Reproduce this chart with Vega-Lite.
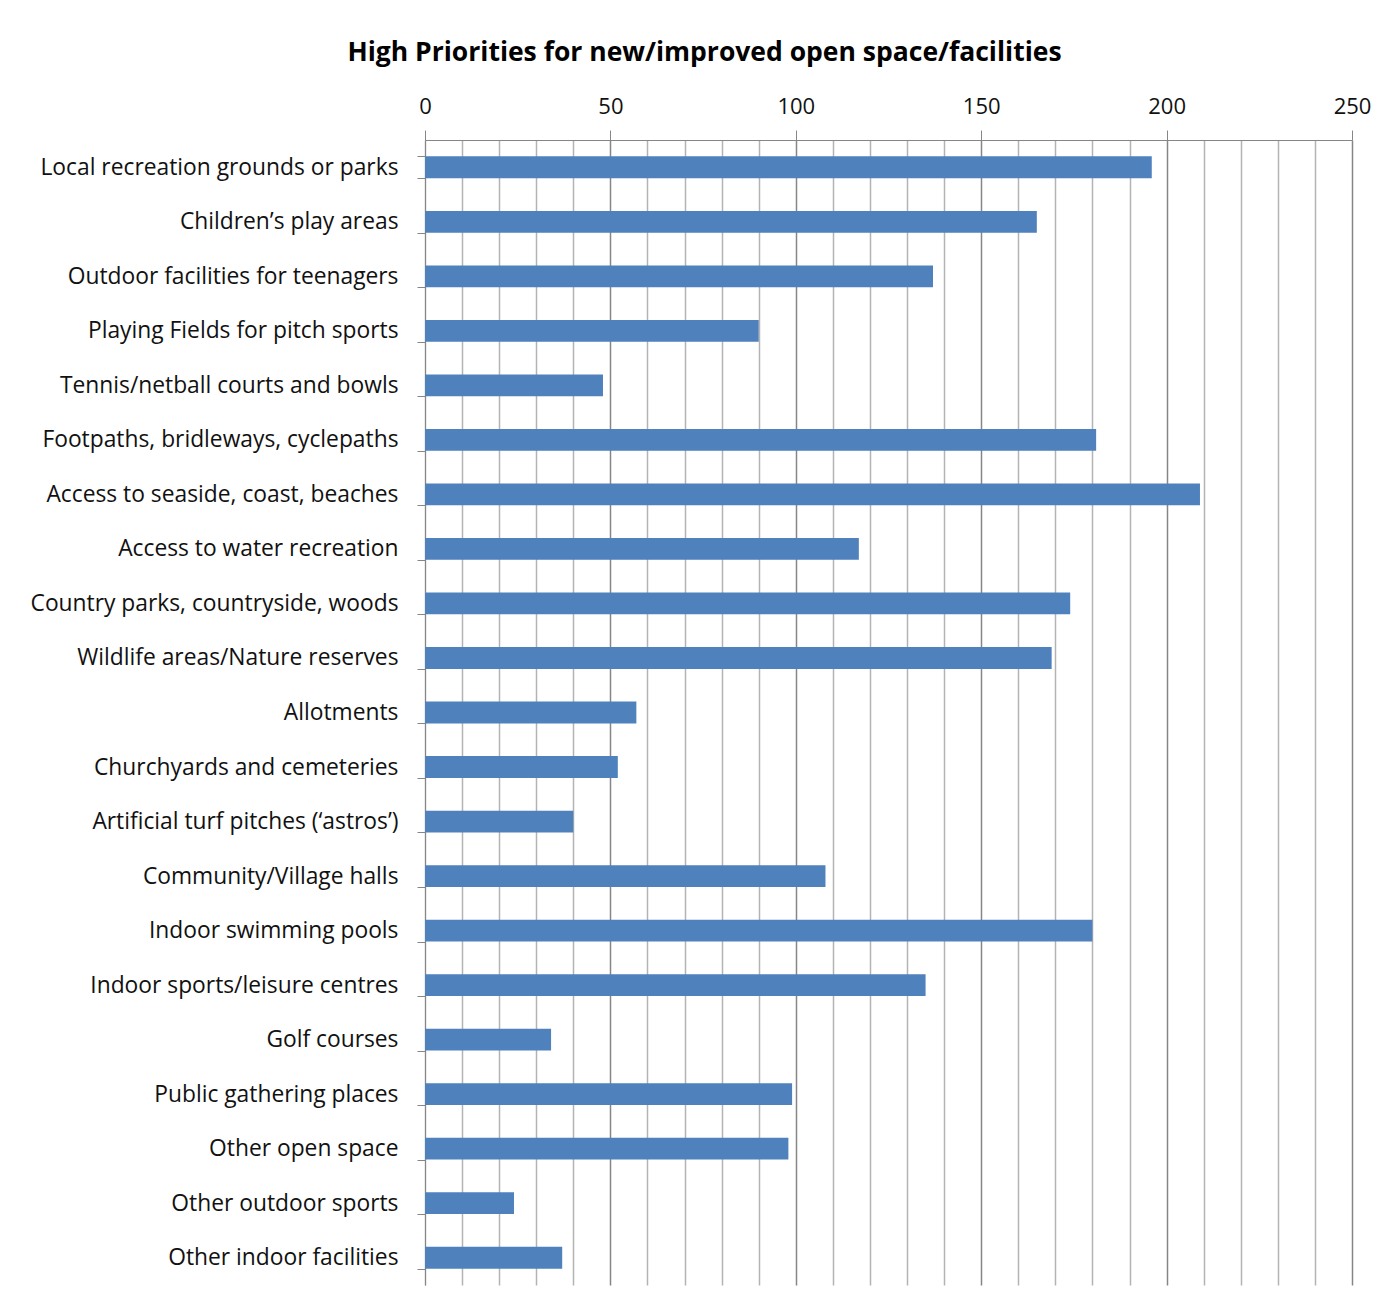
{
  "$schema": "https://vega.github.io/schema/vega-lite/v6.json",
  "width": 927,
  "height": 1145,
  "autosize": {"type": "none"},
  "padding": {"left": 425, "top": 140, "right": 41, "bottom": 21},
  "background": "white",
  "title": {
    "text": "High Priorities for new/improved open space/facilities",
    "font": "Open Sans",
    "fontSize": 26.5,
    "fontWeight": "bold",
    "color": "#000000",
    "anchor": "middle",
    "frame": "group",
    "dx": -184,
    "offset": 29
  },
  "config": {
    "view": {"stroke": null},
    "font": "Open Sans"
  },
  "data": {
    "values": [
      {"category": "Local recreation grounds or parks", "value": 196},
      {"category": "Children’s play areas", "value": 165},
      {"category": "Outdoor facilities for teenagers", "value": 137},
      {"category": "Playing Fields for pitch sports", "value": 90},
      {"category": "Tennis/netball courts and bowls", "value": 48},
      {"category": "Footpaths, bridleways, cyclepaths", "value": 181},
      {"category": "Access to seaside, coast, beaches", "value": 209},
      {"category": "Access to water recreation", "value": 117},
      {"category": "Country parks, countryside, woods", "value": 174},
      {"category": "Wildlife areas/Nature reserves", "value": 169},
      {"category": "Allotments", "value": 57},
      {"category": "Churchyards and cemeteries", "value": 52},
      {"category": "Artificial turf pitches (‘astros’)", "value": 40},
      {"category": "Community/Village halls", "value": 108},
      {"category": "Indoor swimming pools", "value": 180},
      {"category": "Indoor sports/leisure   centres", "value": 135},
      {"category": "Golf courses", "value": 34},
      {"category": "Public gathering places", "value": 99},
      {"category": "Other open space", "value": 98},
      {"category": "Other outdoor sports", "value": 24},
      {"category": "Other indoor facilities", "value": 37}
    ]
  },
  "mark": {"type": "bar", "color": "#4f81bd"},
  "encoding": {
    "y": {
      "field": "category",
      "type": "nominal",
      "sort": null,
      "scale": {"paddingInner": 0.6, "paddingOuter": 0.3},
      "axis": {
        "title": null,
        "tickBand": "extent",
        "tickSize": 8,
        "tickColor": "#868686",
        "domainColor": "#868686",
        "labelPadding": 19,
        "labelFontSize": 22.8,
        "labelColor": "#111111",
        "labelLimit": 500,
        "labelFont": "Open Sans",
        "grid": false
      }
    },
    "x": {
      "field": "value",
      "type": "quantitative",
      "scale": {"domain": [0, 250], "nice": false},
      "axis": {
        "orient": "top",
        "title": null,
        "values": [0, 10, 20, 30, 40, 50, 60, 70, 80, 90, 100, 110, 120, 130, 140, 150, 160, 170, 180, 190, 200, 210, 220, 230, 240, 250],
        "labelExpr": "datum.value % 50 === 0 ? datum.label : ''",
        "grid": true,
        "gridColor": {"condition": {"test": "datum.value % 50 === 0 && datum.value > 0", "value": "#868686"}, "value": "#b3b3b3"},
        "gridWidth": 1.5,
        "tickSize": 10,
        "tickColor": "#868686",
        "tickOpacity": {"condition": {"test": "datum.value % 50 === 0", "value": 1}, "value": 0},
        "domainColor": "#868686",
        "labelPadding": 12,
        "labelFontSize": 22,
        "labelColor": "#111111",
        "labelFont": "Open Sans",
        "labelFlush": false
      }
    }
  }
}
